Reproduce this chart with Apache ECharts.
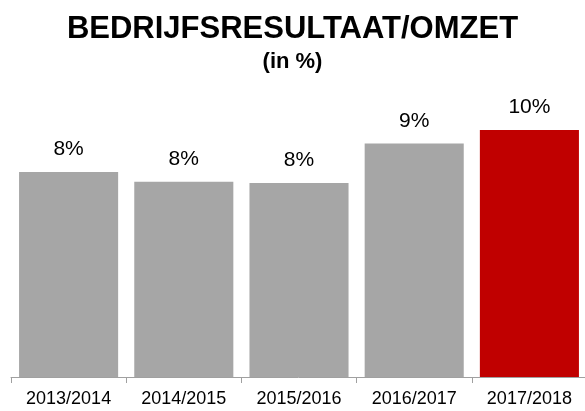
<html>
<head>
    <meta charset='UTF-8'>
    <script src='https://cdn.jsdelivr.net/npm/echarts@6/dist/echarts.min.js'></script>
    <style>
        html, body { margin: 0; padding: 0; background: #fff; }
        #chart { width: 585px; height: 411px; }
    </style>
</head>
<body>
    <div id="chart"></div>
    <script>
        // boekjaren en resultaat/omzet in %
        const years = ['2013/2014', '2014/2015', '2015/2016', '2016/2017', '2017/2018']
        const values = [8.3, 7.9, 7.85, 9.45, 10.0]
        const barColors = ['#a6a6a6', '#a6a6a6', '#a6a6a6', '#a6a6a6', '#c00000']

        const font = 'Arial, "Liberation Sans", sans-serif'
        const myChart = echarts.init(document.getElementById('chart'))
        myChart.setOption({
            animation: false,
            title: [{
                text: 'BEDRIJFSRESULTAAT/OMZET',
                left: 'center',
                top: 9,
                textStyle: { fontFamily: font, fontSize: 31, fontWeight: 'bold', color: '#000' }
            }, {
                text: '(in %)',
                left: 'center',
                top: 46,
                textStyle: { fontFamily: font, fontSize: 22, fontWeight: 'bold', color: '#000' }
            }],
            grid: {
                left: 11,
                width: 576,
                bottom: 34,
                top: 80.6,
                outerBoundsMode: 'none'
            },
            xAxis: {
                type: 'category',
                data: years,
                axisLine: { lineStyle: { color: '#a0a0a0', width: 1 } },
                axisTick: { show: true, length: 6, lineStyle: { color: '#a0a0a0' } },
                axisLabel: { fontFamily: font, fontSize: 18, color: '#000', margin: 13 }
            },
            yAxis: {
                type: 'value',
                min: 0,
                max: 12,
                show: false,
                splitLine: { show: false }
            },
            series: [{
                type: 'bar',
                data: values.map((v, i) => ({ value: v, itemStyle: { color: barColors[i] } })),
                barCategoryGap: '14%',
                label: {
                    show: true,
                    position: 'top',
                    distance: 12,
                    fontFamily: font,
                    fontSize: 21,
                    color: '#000',
                    formatter: p => Math.round(p.value) + '%'
                }
            }]
        })
    </script>
</body>
</html>
